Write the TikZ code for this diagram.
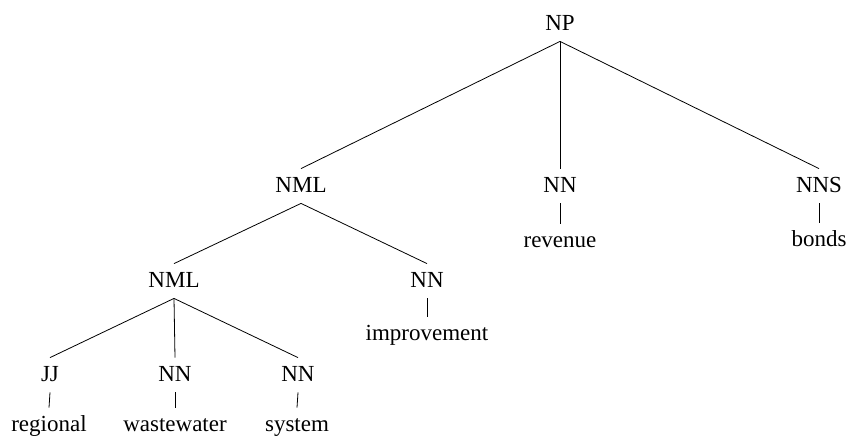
\documentclass[tikz,border=0pt]{standalone}
\usepackage{fontspec}
\setmainfont{Liberation Serif}
\usepackage{tikz}

\begin{document}
\begin{tikzpicture}[x=1pt,y=-1pt,line width=0.8pt,
  lab/.style={font=\fontsize{23}{27}\selectfont,anchor=base,text height=15pt,
    text depth=3pt,inner xsep=0pt,inner ysep=8pt}]
\useasboundingbox (0,0) rectangle (848,437);
\node[lab] (np) at (560,30) {NP};
\node[lab] (nml) at (301,192) {NML}; \node[lab] (nn1) at (560,192) {NN};
\node[lab] (nns) at (819,192) {NNS};
\node[lab] (rev) at (560,247) {revenue}; \node[lab] (bonds) at (819,246) {bonds};
\node[lab] (nmlb) at (174,287) {NML}; \node[lab] (nn2) at (427,287) {NN};
\node[lab] (impr) at (427,340) {improvement};
\node[lab] (jj) at (50,381) {JJ}; \node[lab] (nn3) at (175,381) {NN};
\node[lab] (nn4) at (298,381) {NN};
\node[lab] (reg) at (49,431) {regional}; \node[lab] (ww) at (175,431) {wastewater};
\node[lab] (sys) at (297,431) {system};
\foreach \a/\b in {np/nml,np/nn1,np/nns,nml/nmlb,nml/nn2,nmlb/jj,nmlb/nn3,nmlb/nn4,
    nn1/rev,nns/bonds,nn2/impr,jj/reg,nn3/ww,nn4/sys}
  \draw (\a.south) -- (\b.north);
\end{tikzpicture}
\end{document}
